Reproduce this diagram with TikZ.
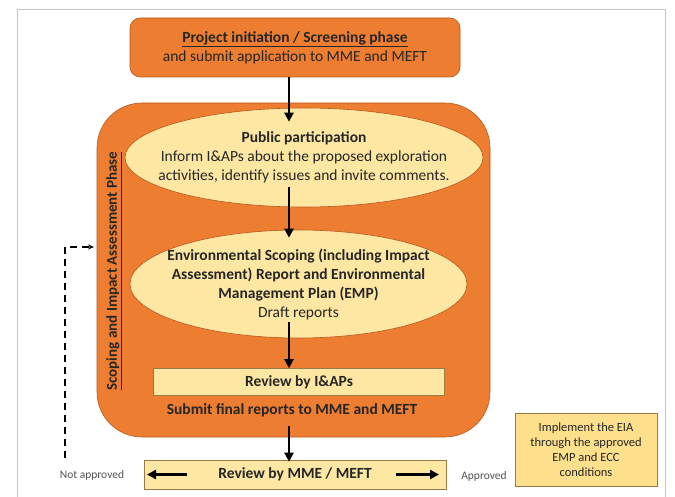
\documentclass[tikz,border=0pt]{standalone}
\usepackage{fontspec}
\setmainfont{Carlito}
\usetikzlibrary{arrows.meta,shapes.geometric,positioning}

\definecolor{phaseorange}{HTML}{ED7D31}
\definecolor{phaseedge}{HTML}{B85A1E}
\definecolor{stepyellow}{HTML}{FDE7A2}
\definecolor{implyellow}{HTML}{FDDF8C}
\definecolor{stepedge}{HTML}{9A7B45}
\definecolor{framegray}{HTML}{C4C4C4}
\definecolor{inkgray}{HTML}{262626}

\tikzset{
    phase/.style={draw=phaseedge, fill=phaseorange, line width=0.6pt},
    bubble/.style={ellipse, draw=phaseedge, fill=stepyellow, line width=0.6pt,
        inner sep=0pt},
    bubbletext/.style={align=center, inner sep=0pt, text=inkgray,
        font=\fontsize{15.5}{19}\selectfont},
    stepbox/.style={draw=stepedge, fill=stepyellow, line width=0.6pt,
        inner sep=0pt, text=inkgray, font=\fontsize{15.5}{19}\selectfont\bfseries},
    flow/.style={-{Triangle[length=9pt,width=9pt]}, line width=2.6pt},
    retry/.style={-{Stealth[length=6pt,width=5pt]}, dashed, line width=1.1pt,
        dash pattern=on 7pt off 5pt},
    note/.style={text=inkgray!80, font=\fontsize{11.5}{13}\selectfont},
}

\begin{document}
\begin{tikzpicture}[x=1pt, y=-1pt]
    \useasboundingbox (0,0) rectangle (675,497);
    \draw[framegray, line width=1pt] (17,497) |- (665,10) -- (665,497);

    % screening phase
    \node[phase, rounded corners=10pt, minimum width=330pt, minimum height=59pt,
        align=center, text=inkgray, font=\fontsize{15.5}{19}\selectfont]
        (screen) at (295,47.5)
        {\textbf{\underline{Project initiation / Screening phase}}\\
         and submit application to MME and MEFT};

    % scoping and impact assessment phase
    \node[phase, rounded corners=45pt, minimum width=393pt, minimum height=334pt]
        (scoping) at (293.5,270) {};
    \node[rotate=90, text=inkgray, font=\fontsize{15}{17}\selectfont\bfseries]
        (phasename) at (114,271) {\underline{Scoping and Impact Assessment Phase}};

    \node[bubble, minimum width=358pt, minimum height=99pt] (pp) at (304,157.5) {};
    \node[bubbletext] (pptext) at (pp.center)
        {\textbf{Public participation}\\
         Inform I\&APs about the proposed exploration\\
         activities, identify issues and invite comments.};
    \node[bubble, minimum width=337pt, minimum height=108pt] (emp) at (298.5,284) {};
    \node[bubbletext] (emptext) at (emp.center)
        {\textbf{Environmental Scoping (including Impact}\\
         \textbf{Assessment) Report and Environmental}\\
         \textbf{Management Plan (EMP)}\\
         Draft reports};
    \node[stepbox, minimum width=291pt, minimum height=27pt] (iap) at (299,382)
        {Review by I\&APs};
    \node[text=inkgray, font=\fontsize{15.5}{19}\selectfont\bfseries]
        (submit) at (292,410) {Submit final reports to MME and MEFT};

    % review by the ministries
    \node[stepbox, minimum width=302pt, minimum height=29pt] (mme) at (295,474.5)
        {Review by MME / MEFT};
    \node[draw=stepedge, fill=implyellow, line width=0.6pt, minimum width=142pt,
        minimum height=73pt, align=center, text=inkgray,
        font=\fontsize{12.5}{15}\selectfont]
        (implement) at (586,449.5)
        {Implement the EIA\\through the approved\\EMP and ECC\\conditions};
    \node[note] (notok) at (92,475) {Not approved};
    \node[note] (ok) at (484,476) {Approved};

    % connectors
    \coordinate (spine) at (289,0);
    \coordinate (mmeleft) at (187,474.5);
    \coordinate (mmeleftend) at (147,474.5);
    \coordinate (mmeright) at (396,474.5);
    \coordinate (mmerightend) at (439,474.5);
    \coordinate (naup) at (65,458);
    \coordinate (back) at (94,247);

    \draw[flow, shorten >=-14pt] (screen.south -| spine) -- (pp.north -| spine);
    \draw[flow, shorten <=-20pt, shorten >=-8pt] (pp.south -| spine) -- (emp.north -| spine);
    \draw[flow, shorten <=-16pt] (emp.south -| spine) -- (iap.north -| spine);
    \draw[flow, shorten <=-11pt, shorten >=-2pt] (scoping.south -| spine) -- (mme.north -| spine);
    \draw[flow] (mmeleft) -- (mmeleftend);
    \draw[flow] (mmeright) -- (mmerightend);
    \draw[retry] (naup) |- (back);
\end{tikzpicture}
\end{document}
